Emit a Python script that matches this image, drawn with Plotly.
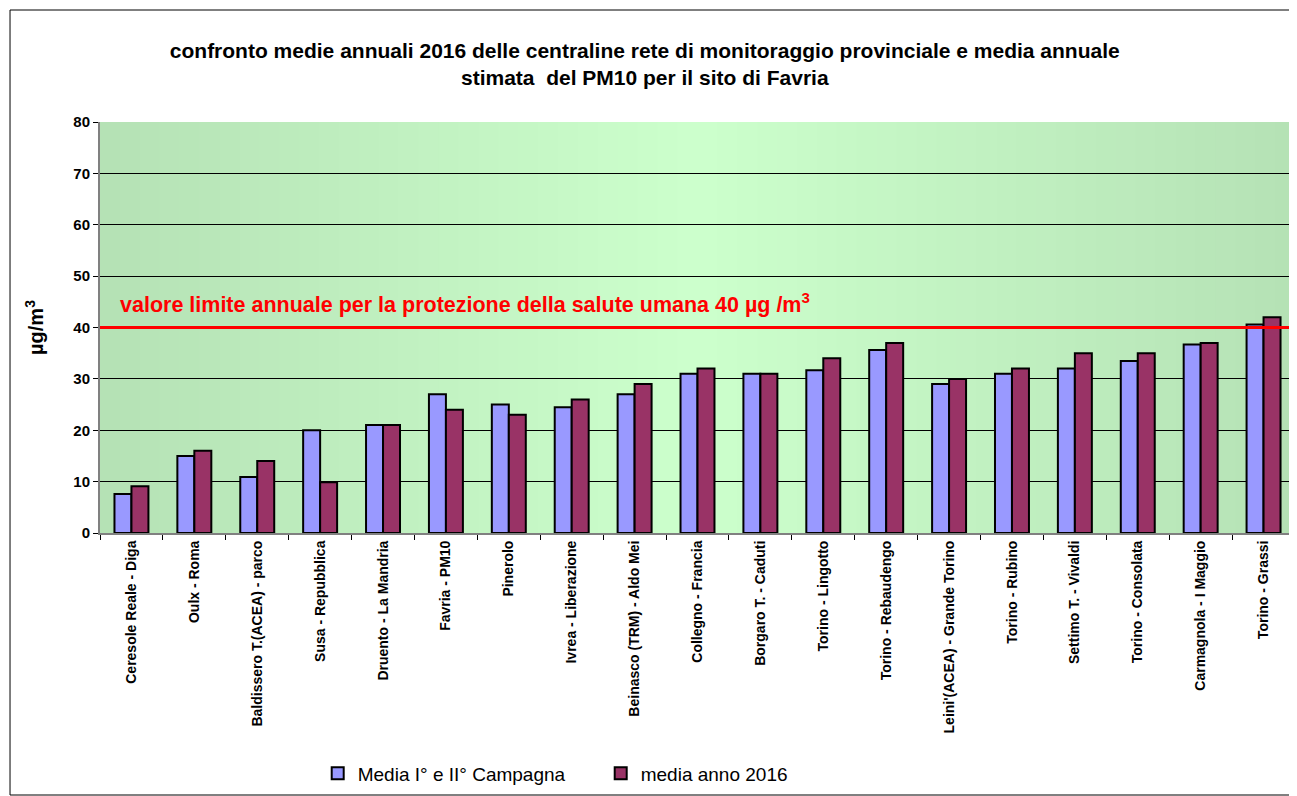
import plotly.graph_objects as go

categories = ["Ceresole Reale - Diga", "Oulx - Roma", "Baldissero T.(ACEA) - parco",
              "Susa - Repubblica", "Druento - La Mandria", "Favria - PM10", "Pinerolo",
              "Ivrea - Liberazione", "Beinasco (TRM) - Aldo Mei", "Collegno - Francia",
              "Borgaro T. - Caduti", "Torino - Lingotto", "Torino - Rebaudengo",
              "Leini'(ACEA) - Grande Torino", "Torino - Rubino", "Settimo T. - Vivaldi",
              "Torino - Consolata", "Carmagnola - I Maggio", "Torino - Grassi"]
media_campagna = [7.6, 15, 10.9, 20, 21, 27, 25, 24.5, 27, 31, 31, 31.7, 35.6, 29, 31, 32, 33.5, 36.7, 40.6]
media_2016 = [9.1, 16, 14, 9.9, 21, 24, 23, 26, 29, 32, 31, 34, 37, 30, 32, 35, 35, 37, 42]
limit_value = 40
y_ticks = [0, 10, 20, 30, 40, 50, 60, 70, 80]

FONT = "Liberation Sans, Arial, sans-serif"

fig = go.Figure()
fig.add_trace(go.Bar(x=categories, y=media_campagna, name="Media I° e II° Campagna",
                     marker=dict(color="#9999ff", line=dict(color="black", width=2))))
fig.add_trace(go.Bar(x=categories, y=media_2016, name="media anno 2016",
                     marker=dict(color="#993366", line=dict(color="black", width=2))))

# horizontal gradient background (dark edges, light centre)
shapes = []
n = 60
def lerp(a, b, t):
    return int(round(a + (b - a) * t))
edge = (181, 226, 181)
centre = (204, 255, 204)
for i in range(n):
    t = (i + 0.5) / n
    k = 1 - abs(t - 0.5) * 2
    c = tuple(lerp(edge[j], centre[j], k) for j in range(3))
    shapes.append(dict(type="rect", xref="x domain", yref="y domain",
                       x0=i / n, x1=(i + 1) / n + 0.002, y0=0, y1=1,
                       fillcolor="rgb(%d,%d,%d)" % c, line=dict(width=0), layer="below"))
# limit line
shapes.append(dict(type="line", xref="x domain", yref="y", x0=0, x1=1,
                   y0=limit_value, y1=limit_value, line=dict(color="red", width=3)))
# outer frame
shapes.append(dict(type="rect", xref="paper", yref="paper", x0=-0.0753, x1=1.0008,
                   y0=-0.6375, y1=1.2725, line=dict(color="black", width=1)))

fig.update_layout(
    width=1289, height=788,
    margin=dict(l=92, r=2, t=114, b=263),
    paper_bgcolor="white",
    plot_bgcolor="rgba(0,0,0,0)",
    barmode="group", bargap=0.46, bargroupgap=0,
    shapes=shapes,
    font=dict(family=FONT, color="black"),
    title=dict(text="confronto medie annuali 2016 delle centraline rete di monitoraggio provinciale e media annuale<br>stimata  del PM10 per il sito di Favria",
               x=0.494, xanchor="center", y=0.937, yanchor="top",
               font=dict(family=FONT, size=21, color="black", weight="bold")),
    xaxis=dict(tickangle=-90, tickson="boundaries", ticks="outside", ticklen=5,
               tickcolor="black", showline=True, linecolor="#808080", linewidth=2,
               tickfont=dict(family=FONT, size=14, weight="bold"), showgrid=False,
               automargin=False),
    yaxis=dict(range=[0, 80], tickvals=y_ticks, ticks="outside", ticklen=5,
               tickcolor="black", showline=True, linecolor="#808080", linewidth=2,
               showgrid=True, gridcolor="black", gridwidth=1, zeroline=False,
               tickfont=dict(family=FONT, size=15, weight="bold"), automargin=False,
               title=dict(text="µg/m<sup>3</sup>", standoff=24,
                          font=dict(family=FONT, size=20, weight="bold"))),
    legend=dict(orientation="h", x=0.419, xanchor="center", y=-0.585, yanchor="middle",
                font=dict(family=FONT, size=19), traceorder="normal",
                entrywidth=238, itemwidth=30),
    annotations=[dict(text="valore limite annuale per la protezione della salute umana 40 µg /m<sup>3</sup>",
                      xref="x domain", yref="y", x=0.015, y=44.7, xanchor="left", yanchor="middle",
                      showarrow=False, font=dict(family=FONT, size=21.5, color="red", weight="bold"))],
)

fig.write_html("out.html")
